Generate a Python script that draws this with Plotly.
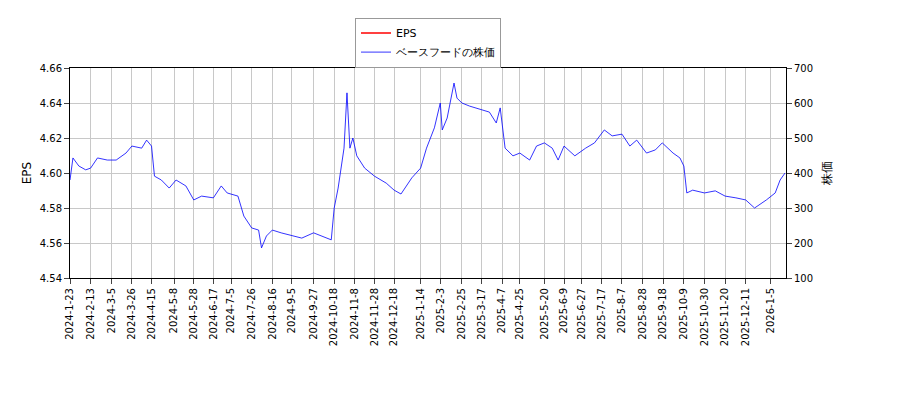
import plotly.graph_objects as go

# Stock price (approximate readings)
price_dates = [
    "2024-01-23", "2024-01-26", "2024-02-01", "2024-02-08", "2024-02-13", "2024-02-20",
    "2024-03-01", "2024-03-10", "2024-03-20", "2024-03-26", "2024-04-05", "2024-04-10",
    "2024-04-15", "2024-04-18", "2024-04-25", "2024-05-03", "2024-05-10", "2024-05-20",
    "2024-05-28", "2024-06-05", "2024-06-17", "2024-06-25", "2024-07-01", "2024-07-05",
    "2024-07-12", "2024-07-18", "2024-07-26", "2024-08-02", "2024-08-05", "2024-08-10",
    "2024-08-16", "2024-08-25", "2024-09-05", "2024-09-15", "2024-09-27", "2024-10-05",
    "2024-10-15", "2024-10-18", "2024-10-22", "2024-10-28", "2024-10-31", "2024-11-03",
    "2024-11-06", "2024-11-10", "2024-11-18", "2024-11-28", "2024-12-10", "2024-12-18",
    "2024-12-25", "2025-01-05", "2025-01-14", "2025-01-20", "2025-01-28", "2025-02-03",
    "2025-02-05", "2025-02-10", "2025-02-17", "2025-02-20", "2025-02-25", "2025-03-05",
    "2025-03-17", "2025-03-25", "2025-04-01", "2025-04-05", "2025-04-10", "2025-04-18",
    "2025-04-25", "2025-05-05", "2025-05-12", "2025-05-20", "2025-05-28", "2025-06-03",
    "2025-06-09", "2025-06-20", "2025-07-01", "2025-07-10", "2025-07-20", "2025-07-28",
    "2025-08-07", "2025-08-15", "2025-08-22", "2025-09-01", "2025-09-10", "2025-09-17",
    "2025-09-28", "2025-10-05", "2025-10-09", "2025-10-12", "2025-10-18", "2025-10-30",
    "2025-11-10", "2025-11-20", "2025-12-01", "2025-12-11", "2025-12-20", "2026-01-01",
    "2026-01-10", "2026-01-15", "2026-01-20",
]
price_values = [
    380, 443, 420, 409, 414, 443, 437, 437, 457, 477, 471, 494,
    477, 391, 380, 357, 380, 363, 323, 334, 329, 363, 343, 340,
    334, 277, 243, 237, 186, 220, 237, 229, 220, 214, 229, 220,
    209, 300, 357, 471, 629, 471, 500, 449, 414, 391, 371, 351,
    340, 386, 414, 471, 529, 600, 523, 557, 657, 614, 600, 591,
    580, 574, 543, 586, 471, 449, 457, 437, 477, 486, 471, 437,
    477, 449, 471, 486, 523, 506, 511, 477, 494, 457, 466, 486,
    457, 443, 420, 343, 351, 343, 349, 334, 329, 323, 300, 323,
    343, 380, 400,
]

tick_text = [
    "2024-1-23", "2024-2-13", "2024-3-5", "2024-3-26", "2024-4-15", "2024-5-8",
    "2024-5-28", "2024-6-17", "2024-7-5", "2024-7-26", "2024-8-16", "2024-9-5",
    "2024-9-27", "2024-10-18", "2024-11-8", "2024-11-28", "2024-12-18", "2025-1-14",
    "2025-2-3", "2025-2-25", "2025-3-17", "2025-4-7", "2025-4-25", "2025-5-20",
    "2025-6-9", "2025-6-27", "2025-7-17", "2025-8-7", "2025-8-28", "2025-9-18",
    "2025-10-9", "2025-10-30", "2025-11-20", "2025-12-11", "2026-1-5",
]
tick_vals = ["-".join(p.zfill(2) for p in t.split("-")) for t in tick_text]

fig = go.Figure()
fig.add_trace(go.Scatter(x=[price_dates[0]], y=[None], name="EPS", mode="lines",
                         line=dict(color="red", width=1.5), yaxis="y"))
fig.add_trace(go.Scatter(x=price_dates, y=price_values, name="ベースフードの株価", mode="lines",
                         line=dict(color="blue", width=0.8), yaxis="y2"))

axis_common = dict(showgrid=True, gridcolor="#c8c8c8", ticks="outside",
                   linecolor="black", showline=True, zeroline=False)
fig.update_layout(
    width=900, height=400,
    margin=dict(l=62, r=122, t=60, b=130, autoexpand=False),
    paper_bgcolor="white", plot_bgcolor="white",
    font=dict(family="DejaVu Sans", size=10, color="black"),
    showlegend=True,
    legend=dict(x=0.5, y=1.24, xanchor="center", yanchor="top",
                bordercolor="#999", borderwidth=1, font=dict(size=11),
                tracegroupgap=0, itemwidth=30),
    xaxis=dict(axis_common, range=["2024-01-23", "2026-01-21"],
               tickvals=tick_vals, ticktext=tick_text,
               tickangle=-90, mirror=True),
    yaxis=dict(axis_common, range=[4.54, 4.66], dtick=0.02, tickformat=".2f",
               title=dict(text="EPS", standoff=5)),
    yaxis2=dict(axis_common, range=[100, 700], dtick=100, overlaying="y", side="right",
                showgrid=False, title=dict(text="株価", standoff=10)),
)

fig.write_html("out.html")
